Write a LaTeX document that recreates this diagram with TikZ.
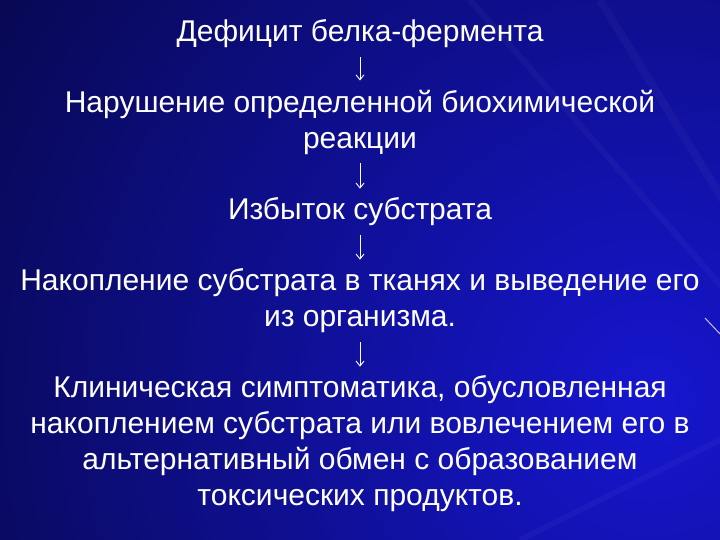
\documentclass[tikz,border=0pt]{standalone}
\usepackage{fontspec}
\setmainfont{Liberation Sans}
\usetikzlibrary{arrows.meta}
\definecolor{slidedark}{RGB}{8,8,84}
\definecolor{slidelight}{RGB}{22,22,208}
\tikzset{
    stage/.style={align=center, text=white, inner sep=0pt,
        font=\fontsize{30}{36}\selectfont},
    flow/.style={draw=white, line width=0.9pt, -{Straight Barb[length=5pt,width=8pt]},
        shorten >=9pt, shorten <=9pt}
}

\begin{document}
\begin{tikzpicture}[x=1pt, y=-1pt]
    \useasboundingbox (0,0) rectangle (720,540);

    % background
    \begin{scope}
    \clip (0,0) rectangle (720,540);
    \fill[color=slidedark] (0,0) rectangle (720,540);
    \shade[inner color=slidelight, outer color=slidedark] (650,400) circle (760);
    \draw[white, opacity=0.03, line width=6pt] (470,0) -- (760,330);
    \draw[white, opacity=0.03, line width=8pt] (600,0) -- (760,260);
    \draw[white, opacity=0.03, line width=6pt] (520,540) -- (760,420);
    \draw[color={rgb,255:red,205;green,185;blue,255}, line width=1pt] (705,318) -- (720,334);
    \end{scope}

    \node[stage] (deficit) at (360,34) {Дефицит белка-фермента};
    \node[stage] (reaction) at (360,122) {Нарушение определенной биохимической\\реакции};
    \node[stage] (excess) at (360,212) {Избыток субстрата};
    \node[stage] (storage) at (360,301) {Накопление субстрата в тканях и выведение его\\из организма.};
    \node[stage] (clinic) at (360,444) {Клиническая симптоматика, обусловленная\\накоплением субстрата или вовлечением его в\\альтернативный обмен с образованием\\токсических продуктов.};

    \draw[flow] (deficit) -- (reaction);
    \draw[flow] (reaction) -- (excess);
    \draw[flow] (excess) -- (storage);
    \draw[flow] (storage) -- (clinic);

\end{tikzpicture}
\end{document}
